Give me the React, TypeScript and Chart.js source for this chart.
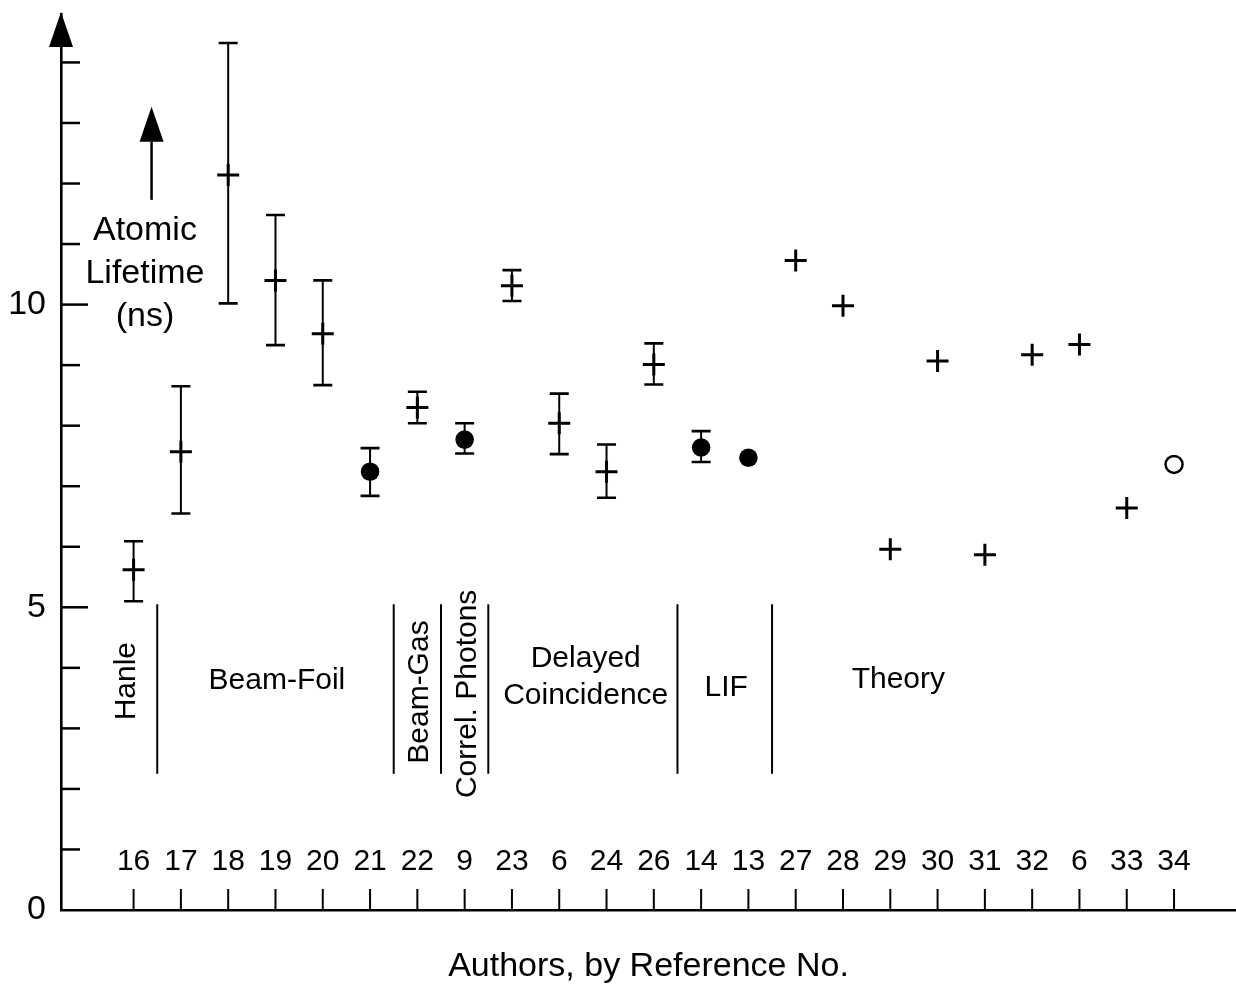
import React, { useEffect, useRef } from 'react';
import { Chart, registerables } from 'chart.js';

Chart.register(...registerables);

// ---------- data ----------
const refLabels = ['16', '17', '18', '19', '20', '21', '22', '9', '23', '6', '24', '26', '14', '13', '27', '28', '29', '30', '31', '32', '6', '33', '34'];
const lifetimes = [5.62, 7.57, 12.14, 10.40, 9.52, 7.24, 8.30, 7.77, 10.31, 8.04, 7.24, 9.01, 7.64, 7.47, 10.73, 9.98, 5.96, 9.07, 5.87, 9.17, 9.34, 6.64, 7.36];
const errorHigh: (number | null)[] = [6.09, 8.65, 14.32, 11.48, 10.40, 7.63, 8.56, 8.04, 10.57, 8.53, 7.69, 9.36, 7.91, null, null, null, null, null, null, null, null, null, null];
const errorLow: (number | null)[] = [5.10, 6.55, 10.02, 9.33, 8.67, 6.84, 8.04, 7.54, 10.06, 7.53, 6.81, 8.68, 7.40, null, null, null, null, null, null, null, null, null, null];
const markerKind = ['cross', 'cross', 'cross', 'cross', 'cross', 'dot', 'cross', 'dot', 'cross', 'cross', 'cross', 'cross', 'dot', 'dot', 'cross', 'cross', 'cross', 'cross', 'cross', 'cross', 'cross', 'cross', 'open'];
const yTickLabels = [0, 5, 10];
const yMinorTicks = [1, 2, 3, 4, 5, 6, 7, 8, 9, 10, 11, 12, 13, 14];
const groupNames = ['Hanle', 'Beam-Foil', 'Beam-Gas', 'Correl. Photons', 'Delayed\nCoincidence', 'LIF', 'Theory'];
const groupSeparators = [0.5, 5.5, 6.5, 7.5, 11.5, 13.5];
const yTitleLines = ['Atomic', 'Lifetime', '(ns)'];
const xTitle = 'Authors, by Reference No.';

// ---------- layout of annotations (in data coordinates) ----------
const groupLayout = [
  { x: -0.14, y: 3.78, rotate: true },
  { x: 3.03, y: 3.79, rotate: false },
  { x: 6.06, y: 3.60, rotate: true },
  { x: 7.07, y: 3.57, rotate: true },
  { x: 9.56, y: 3.85, rotate: false },
  { x: 12.53, y: 3.67, rotate: false },
  { x: 16.17, y: 3.80, rotate: false },
];
const separatorRange = { top: 5.05, bottom: 2.25 };
const yTitleLayout = { x: 0.24, y: [11.22, 10.51, 9.80] };
const yTitleArrow = { x: 0.38, tip: 13.27, headBase: 12.69, tail: 11.73 };

const FONT = '"Liberation Sans", Arial, Helvetica, sans-serif';

const pointsOf = (kind: string) =>
  lifetimes
    .map((v, i) => ({ x: i, y: v, k: markerKind[i] }))
    .filter((p) => p.k === kind)
    .map((p) => ({ x: p.x, y: p.y }));

const errorBarsPlugin = {
  id: 'errorBars',
  beforeDatasetsDraw(chart: any) {
    const { ctx } = chart;
    const x = chart.scales.x;
    const y = chart.scales.y;
    ctx.save();
    ctx.strokeStyle = '#000';
    lifetimes.forEach((_, i) => {
      const hi = errorHigh[i];
      const lo = errorLow[i];
      if (hi == null || lo == null) return;
      const px = x.getPixelForValue(i);
      const pyHi = y.getPixelForValue(hi);
      const pyLo = y.getPixelForValue(lo);
      ctx.lineWidth = 2;
      ctx.beginPath();
      ctx.moveTo(px, pyHi);
      ctx.lineTo(px, pyLo);
      ctx.stroke();
      ctx.lineWidth = 2.6;
      ctx.beginPath();
      ctx.moveTo(px - 9.5, pyHi);
      ctx.lineTo(px + 9.5, pyHi);
      ctx.moveTo(px - 9.5, pyLo);
      ctx.lineTo(px + 9.5, pyLo);
      ctx.stroke();
    });
    ctx.restore();
  },
};

const decorPlugin = {
  id: 'decor',
  afterDraw(chart: any) {
    const { ctx, chartArea } = chart;
    const x = chart.scales.x;
    const y = chart.scales.y;
    const axisX = chartArea.left;
    const axisY = y.getPixelForValue(0);
    ctx.save();
    ctx.strokeStyle = '#000';
    ctx.fillStyle = '#000';

    // arrow on top of the y axis
    ctx.beginPath();
    ctx.moveTo(axisX, chartArea.top - 2);
    ctx.lineTo(axisX - 12, chartArea.top + 33);
    ctx.lineTo(axisX + 12, chartArea.top + 33);
    ctx.closePath();
    ctx.fill();

    // y tick marks (inside)
    ctx.lineWidth = 2.5;
    yMinorTicks.forEach((v) => {
      const py = y.getPixelForValue(v);
      const len = yTickLabels.includes(v) ? 27 : 19;
      ctx.beginPath();
      ctx.moveTo(axisX, py);
      ctx.lineTo(axisX + len, py);
      ctx.stroke();
    });

    // x tick marks (inside) and labels above them
    ctx.lineWidth = 2;
    ctx.font = `30px ${FONT}`;
    ctx.textAlign = 'center';
    ctx.textBaseline = 'middle';
    refLabels.forEach((lab, i) => {
      const px = x.getPixelForValue(i);
      ctx.beginPath();
      ctx.moveTo(px, axisY);
      ctx.lineTo(px, axisY - 21);
      ctx.stroke();
      ctx.fillText(lab, px, axisY - 48);
    });

    // group separators
    ctx.lineWidth = 2;
    groupSeparators.forEach((s) => {
      const px = x.getPixelForValue(s);
      ctx.beginPath();
      ctx.moveTo(px, y.getPixelForValue(separatorRange.top));
      ctx.lineTo(px, y.getPixelForValue(separatorRange.bottom));
      ctx.stroke();
    });

    // group labels
    ctx.font = `30px ${FONT}`;
    groupNames.forEach((name, gi) => {
      const L = groupLayout[gi];
      const px = x.getPixelForValue(L.x);
      const py = y.getPixelForValue(L.y);
      const lines = name.split('\n');
      ctx.save();
      ctx.translate(px, py);
      if (L.rotate) ctx.rotate(-Math.PI / 2);
      const lh = 37;
      lines.forEach((ln, li) => {
        ctx.fillText(ln, 0, (li - (lines.length - 1) / 2) * lh);
      });
      ctx.restore();
    });

    // y title inside the plot
    ctx.font = `34px ${FONT}`;
    yTitleLines.forEach((ln, li) => {
      ctx.fillText(ln, x.getPixelForValue(yTitleLayout.x), y.getPixelForValue(yTitleLayout.y[li]));
    });
    const ax = x.getPixelForValue(yTitleArrow.x);
    const tipY = y.getPixelForValue(yTitleArrow.tip);
    const baseY = y.getPixelForValue(yTitleArrow.headBase);
    const tailY = y.getPixelForValue(yTitleArrow.tail);
    ctx.lineWidth = 2.5;
    ctx.beginPath();
    ctx.moveTo(ax, baseY);
    ctx.lineTo(ax, tailY);
    ctx.stroke();
    ctx.beginPath();
    ctx.moveTo(ax, tipY);
    ctx.lineTo(ax - 12, baseY);
    ctx.lineTo(ax + 12, baseY);
    ctx.closePath();
    ctx.fill();

    ctx.restore();
  },
};

export default function App() {
  const canvasRef = useRef<HTMLCanvasElement | null>(null);

  useEffect(() => {
    document.body.style.margin = '0';
    const canvas = canvasRef.current;
    if (!canvas) return;
    Chart.defaults.font.family = FONT;
    Chart.defaults.color = '#000';

    const chart = new Chart(canvas, {
      type: 'scatter',
      data: {
        datasets: [
          {
            label: 'cross',
            data: pointsOf('cross'),
            pointStyle: 'cross',
            pointRadius: 11,
            pointBorderWidth: 3,
            pointBorderColor: '#000',
            pointBackgroundColor: '#000',
          },
          {
            label: 'dot',
            data: pointsOf('dot'),
            pointStyle: 'circle',
            pointRadius: 9.3,
            pointBorderWidth: 0,
            pointBackgroundColor: '#000',
            pointBorderColor: '#000',
          },
          {
            label: 'open',
            data: pointsOf('open'),
            pointStyle: 'circle',
            pointRadius: 8.5,
            pointBorderWidth: 2.5,
            pointBackgroundColor: '#fff',
            pointBorderColor: '#000',
          },
        ],
      },
      options: {
        animation: false,
        responsive: true,
        maintainAspectRatio: false,
        events: [],
        layout: { autoPadding: false, padding: { top: 14, left: 0, right: 0, bottom: 0 } },
        plugins: {
          legend: { display: false },
          tooltip: { enabled: false },
        },
        scales: {
          x: {
            type: 'linear',
            min: -1.535,
            max: 23.31,
            grid: { display: false, drawTicks: false },
            border: { display: true, color: '#000', width: 2.6 },
            ticks: { display: false },
            title: {
              display: true,
              text: xTitle,
              color: '#000',
              font: { size: 34, family: FONT },
              padding: { top: 0, bottom: 0 },
            },
            afterFit: (scale: any) => {
              scale.height = 77;
              scale.paddingLeft = 0;
              scale.paddingRight = 0;
            },
          },
          y: {
            type: 'linear',
            min: 0,
            max: 14.8,
            grid: { display: false, drawTicks: false },
            border: { display: true, color: '#000', width: 2.6 },
            ticks: {
              padding: 15,
              color: '#000',
              font: { size: 34, family: FONT },
              callback: (v: any) => String(v),
            },
            afterBuildTicks: (scale: any) => {
              scale.ticks = yTickLabels.map((v) => ({ value: v }));
            },
            afterFit: (scale: any) => {
              scale.width = 61;
              scale.paddingTop = 0;
              scale.paddingBottom = 0;
            },
          },
        },
      },
      plugins: [errorBarsPlugin, decorPlugin],
    });

    return () => chart.destroy();
  }, []);

  return (
    <div style={{ width: '1236px', height: '987px', position: 'relative', background: '#fff' }}>
      <canvas ref={canvasRef} />
    </div>
  );
}
